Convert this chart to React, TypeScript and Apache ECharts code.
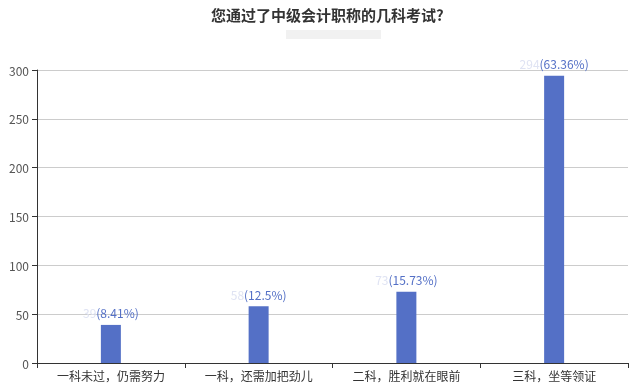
import React, { useEffect, useRef } from "react";
import * as echarts from "echarts";

const categories = ["一科未过，仍需努力", "一科，还需加把劲儿", "二科，胜利就在眼前", "三科，坐等领证"];
const counts = [39, 58, 73, 294];
const percents = ["8.41%", "12.5%", "15.73%", "63.36%"];
const yTicks = { min: 0, max: 300, interval: 50 };

export default function App() {
  const ref = useRef<HTMLDivElement>(null);
  useEffect(() => {
    const chart = echarts.init(ref.current!, null, { renderer: "svg" });
    chart.setOption({
      animation: false,
      title: {
        text: "您通过了中级会计职称的几科考试?",
        left: 206,
        top: 2,
        textStyle: { fontSize: 15, fontWeight: "bold", color: "#333", fontFamily: "Noto Sans CJK SC" },
      },
      graphic: [
        { type: "rect", shape: { x: 286, y: 30, width: 95, height: 9 }, style: { fill: "#f1f1f1" } },
      ],
      grid: { left: 37, right: 15, top: 70, bottom: 27 },
      xAxis: {
        type: "category",
        data: categories,
        axisLine: { lineStyle: { color: "#333" } },
        axisTick: { show: true, lineStyle: { color: "#333" } },
        axisLabel: { color: "#333", fontSize: 12, fontFamily: "Noto Sans CJK SC", margin: 6 },
      },
      yAxis: {
        type: "value",
        min: yTicks.min,
        max: yTicks.max,
        interval: yTicks.interval,
        axisLine: { show: true, lineStyle: { color: "#333" } },
        axisTick: { show: true, lineStyle: { color: "#333" } },
        axisLabel: { color: "#555", fontSize: 12, fontFamily: "Noto Sans CJK SC" },
        splitLine: { lineStyle: { color: "#ccc" } },
      },
      series: [
        {
          type: "bar",
          data: counts,
          barWidth: 20,
          itemStyle: { color: "#5470c6" },
          label: {
            show: true,
            position: "top",
            distance: 6,
            formatter: (p: any) => `{a|${counts[p.dataIndex]}}{b|(${percents[p.dataIndex]})}`,
            rich: {
              a: { color: "#dfe3f3", fontSize: 12, fontFamily: "Noto Sans CJK SC" },
              b: { color: "#5470c6", fontSize: 12, fontFamily: "Noto Sans CJK SC" },
            },
          },
        },
      ],
    });
    return () => chart.dispose();
  }, []);
  return <div ref={ref} style={{ position: "fixed", left: 0, top: 0, width: 643, height: 390 }} />;
}
